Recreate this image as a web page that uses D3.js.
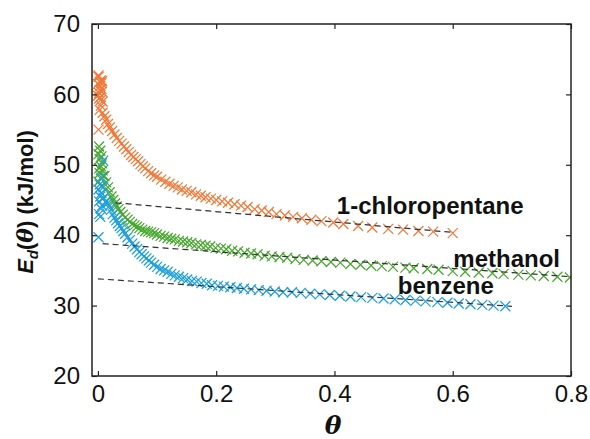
<!DOCTYPE html>
<html>
<head>
<meta charset="utf-8">
<script src="https://cdn.jsdelivr.net/npm/d3@7"></script>
<style>
  html, body { margin: 0; padding: 0; background: #fff; }
  svg { display: block; font-family: "Liberation Sans", Arial, sans-serif; }
</style>
</head>
<body>
<svg id="chart" width="590" height="439"></svg>
<script>
// ---------- data ----------
const xTicks = [0, 0.2, 0.4, 0.6, 0.8];
const xTickLabels = ["0", "0.2", "0.4", "0.6", "0.8"];
const yTicks = [20, 30, 40, 50, 60, 70];
const yTickLabels = ["20", "30", "40", "50", "60", "70"];

const seriesNames = ["1-chloropentane", "methanol", "benzene"];

// 1-chloropentane: [theta, Ed]
const chloropentane = [
  [0.000,61.5],[0.001,62.5],[0.002,60.2],[0.003,61.8],[0.004,59.6],[0.005,62.0],[0.006,60.8],
  [0.004,61.2],[0.002,59.4],[0.003,60.6],[0.005,59.2],[0.006,61.6],[0.001,62.7],[0.000,59.8],
  [0.007,60.4],[0.008,59.0],[0.007,61.9],
  [0.001,55.0],[0.003,57.8],[0.005,58.4],
  [0.008,57.4],[0.011,56.9],[0.014,56.4],[0.017,55.8],[0.020,55.3],[0.024,54.8],[0.028,54.3],
  [0.032,53.8],[0.036,53.4],[0.040,53.0],[0.044,52.6],[0.048,52.2],[0.052,51.8],[0.056,51.4],
  [0.060,51.1],[0.064,50.8],[0.068,50.5],[0.072,50.1],[0.076,49.8],[0.080,49.5],[0.085,49.1],
  [0.090,48.8],[0.095,48.5],[0.100,48.3],[0.107,47.9],[0.114,47.6],[0.121,47.3],[0.128,47.0],
  [0.135,46.8],[0.142,46.5],[0.150,46.3],[0.158,46.1],[0.166,45.8],[0.174,45.6],[0.182,45.4],
  [0.191,45.2],[0.200,45.0],[0.210,44.8],[0.220,44.6],[0.231,44.4],[0.242,44.2],[0.253,44.0],
  [0.265,43.7],[0.277,43.5],[0.289,43.3],[0.302,43.0],[0.316,42.8],[0.330,42.6],[0.345,42.4],
  [0.361,42.2],[0.378,42.0],[0.398,41.8],[0.415,41.6],[0.440,41.3],[0.464,41.1],[0.491,40.9],
  [0.516,40.8],[0.542,40.6],[0.567,40.5],[0.600,40.3]
];

// methanol
const methanol = [
  [0.001,51.5],[0.002,52.6],[0.003,50.8],[0.004,52.0],[0.005,49.8],[0.006,51.2],[0.007,50.2],
  [0.003,48.8],[0.005,48.0],[0.008,49.2],[0.002,49.5],[0.009,48.4],[0.001,47.6],[0.006,47.0],
  [0.011,48.4],[0.014,47.5],[0.017,46.8],[0.020,46.1],[0.023,45.5],[0.026,45.0],[0.029,44.5],
  [0.032,44.1],[0.035,43.7],[0.038,43.3],[0.042,42.9],[0.046,42.5],[0.050,42.2],[0.054,41.9],
  [0.058,41.6],[0.062,41.4],[0.066,41.2],[0.070,41.0],[0.075,40.8],[0.080,40.6],[0.085,40.5],
  [0.090,40.4],[0.095,40.3],[0.100,40.1],[0.106,39.9],[0.112,39.8],[0.118,39.6],[0.124,39.5],
  [0.130,39.4],[0.137,39.2],[0.144,39.1],[0.151,39.0],[0.158,38.9],[0.166,38.7],[0.174,38.6],
  [0.182,38.5],[0.190,38.4],[0.199,38.2],[0.208,38.1],[0.217,38.0],[0.227,37.8],[0.237,37.7],
  [0.248,37.5],[0.259,37.4],[0.270,37.3],[0.282,37.1],[0.294,37.0],[0.307,36.9],[0.320,36.8],
  [0.334,36.6],[0.348,36.5],[0.363,36.4],[0.378,36.3],[0.394,36.2],[0.410,36.1],[0.427,35.9],
  [0.444,35.8],[0.462,35.7],[0.480,35.6],[0.499,35.5],[0.520,35.4],[0.534,35.3],[0.557,35.2],
  [0.576,35.1],[0.600,34.9],[0.621,34.8],[0.644,34.7],[0.667,34.6],[0.686,34.5],[0.711,34.4],
  [0.732,34.3],[0.754,34.2],[0.777,34.1],[0.798,34.0]
];

// benzene
const benzene = [
  [0.001,46.5],[0.002,44.8],[0.003,47.2],[0.004,45.5],[0.005,43.8],[0.006,46.0],[0.007,44.2],
  [0.008,45.2],[0.002,43.0],[0.004,42.6],[0.006,48.2],[0.009,50.6],[0.009,46.8],[0.001,39.7],
  [0.010,45.3],[0.013,44.8],[0.016,44.5],[0.019,44.1],[0.022,43.6],[0.025,43.0],[0.028,42.5],
  [0.031,42.1],[0.034,41.7],[0.037,41.3],[0.040,41.0],[0.043,40.6],[0.046,40.2],[0.050,39.7],
  [0.054,39.3],[0.058,38.8],[0.062,38.4],[0.066,38.0],[0.070,37.6],[0.074,37.3],[0.078,37.0],
  [0.082,36.7],[0.086,36.4],[0.090,36.1],[0.095,35.8],[0.100,35.5],[0.106,35.2],[0.112,35.0],
  [0.118,34.8],[0.124,34.5],[0.130,34.3],[0.137,34.1],[0.144,33.9],[0.151,33.7],[0.159,33.5],
  [0.167,33.4],[0.175,33.2],[0.184,33.1],[0.193,32.9],[0.203,32.8],[0.213,32.7],[0.224,32.6],
  [0.235,32.5],[0.247,32.4],[0.259,32.3],[0.272,32.2],[0.285,32.1],[0.299,32.0],[0.313,31.9],
  [0.328,31.9],[0.343,31.8],[0.359,31.7],[0.375,31.6],[0.392,31.5],[0.409,31.4],[0.427,31.3],
  [0.445,31.2],[0.464,31.1],[0.483,31.0],[0.502,30.9],[0.520,30.8],[0.537,30.7],[0.554,30.6],
  [0.574,30.5],[0.591,30.4],[0.610,30.3],[0.630,30.2],[0.650,30.1],[0.669,30.0],[0.689,29.9]
];

// dashed fit lines
const fitChloropentane = [[0.030,44.6],[0.600,40.4]];
const fitMethanol = [[0.008,38.8],[0.800,34.1]];
const fitBenzene = [[0.000,33.8],[0.700,29.9]];

// label anchor positions in data units
const labelPositions = [[0.404,43.0],[0.601,35.5],[0.507,31.7]];

// ---------- drawing ----------
const colors = ["#f07a3a", "#4aa832", "#1ea0dc"];
const svg = d3.select("#chart");
const mLeft = 92, mRight = 571, mTop = 24, mBottom = 376;

const x = d3.scaleLinear().domain([-0.01, 0.8]).range([mLeft, mRight]);
const y = d3.scaleLinear().domain([20, 70]).range([mBottom, mTop]);

svg.append("defs").append("clipPath").attr("id", "clip")
  .append("rect").attr("x", mLeft).attr("y", mTop)
  .attr("width", mRight - mLeft).attr("height", mBottom - mTop);

const plot = svg.append("g").attr("clip-path", "url(#clip)");

const series = [chloropentane, methanol, benzene];
const fits = [fitChloropentane, fitMethanol, fitBenzene];
const h = 5;
const crossPath = d => {
  const cx = x(d[0]), cy = y(d[1]);
  return `M${cx - h},${cy - h}L${cx + h},${cy + h}M${cx - h},${cy + h}L${cx + h},${cy - h}`;
};

series.forEach((data, i) => {
  plot.append("g").selectAll("path").data(data).join("path")
    .attr("d", crossPath)
    .attr("stroke", colors[i])
    .attr("stroke-width", 1.25)
    .attr("fill", "none");
});

const line = d3.line().x(d => x(d[0])).y(d => y(d[1]));
fits.forEach(f => {
  plot.append("path").attr("d", line(f))
    .attr("fill", "none").attr("stroke", "#333")
    .attr("stroke-width", 1.2).attr("stroke-dasharray", "6,4");
});

// axes (box with inward ticks on all sides)
const axisColor = "#222";
const axB = svg.append("g").attr("transform", `translate(0,${mBottom})`)
  .call(d3.axisBottom(x).tickValues(xTicks).tickSize(-5).tickPadding(9)
    .tickFormat((d, i) => xTickLabels[i]));
const axT = svg.append("g").attr("transform", `translate(0,${mTop})`)
  .call(d3.axisTop(x).tickValues(xTicks).tickSize(-5).tickFormat(""));
const axL = svg.append("g").attr("transform", `translate(${mLeft},0)`)
  .call(d3.axisLeft(y).tickValues(yTicks).tickSize(-5).tickPadding(12)
    .tickFormat((d, i) => yTickLabels[i]));
const axR = svg.append("g").attr("transform", `translate(${mRight},0)`)
  .call(d3.axisRight(y).tickValues(yTicks).tickSize(-5).tickFormat(""));

[axB, axT, axL, axR].forEach(g => {
  g.select(".domain").remove();
  g.selectAll(".tick line").attr("stroke", axisColor).attr("stroke-width", 1.2);
  g.selectAll("text").attr("fill", "#111").style("font-size", "24px")
    .style("font-family", "'Liberation Sans', Arial, sans-serif");
});
svg.append("rect").attr("x", mLeft).attr("y", mTop)
  .attr("width", mRight - mLeft).attr("height", mBottom - mTop)
  .attr("fill", "none").attr("stroke", axisColor).attr("stroke-width", 1.5);

// series labels
seriesNames.forEach((name, i) => {
  svg.append("text")
    .attr("x", x(labelPositions[i][0])).attr("y", y(labelPositions[i][1]))
    .attr("font-weight", "bold").attr("font-size", 24)
    .attr("fill", "#111")
    .text(name);
});

// x axis label
svg.append("text").attr("x", 333).attr("y", 434)
  .attr("text-anchor", "middle").attr("font-size", 25)
  .attr("font-weight", "bold").attr("font-style", "italic")
  .attr("font-family", "'DejaVu Serif', serif")
  .attr("fill", "#111").text("θ");

// y axis label
const yl = svg.append("text")
  .attr("transform", "translate(33,202) rotate(-90)")
  .attr("text-anchor", "middle").attr("font-size", 22)
  .attr("font-weight", "bold").attr("fill", "#111");
yl.append("tspan").attr("font-style", "italic").text("E");
yl.append("tspan").attr("font-style", "italic").attr("font-size", 15).attr("dy", 5).text("d");
yl.append("tspan").attr("dy", -5).text("(");
yl.append("tspan").attr("font-style", "italic").attr("font-family", "'DejaVu Serif', serif").text("θ");
yl.append("tspan").text(") (kJ/mol)");
</script>
</body>
</html>
